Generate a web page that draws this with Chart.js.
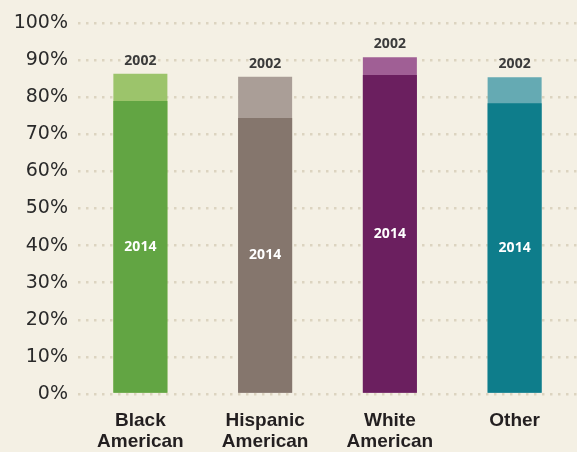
<!DOCTYPE html>
<html lang="en">
<head>
  <meta charset="UTF-8">
  <title>Share by group, 2002 vs 2014</title>
  <style>
    body {
      margin: 0;
      padding: 0;
      background-color: #f4f0e4;
    }
    .wrap {
      width: 577px;
      height: 452px;
    }
  </style>
</head>
<body>
  <div class="wrap">
    <canvas id="chart" width="577" height="452"></canvas>
  </div>

  <script src="https://cdn.jsdelivr.net/npm/chart.js"></script>
  <script>
    // values (percent)
    const categories = [['Black', 'American'], ['Hispanic', 'American'], ['White', 'American'], ['Other']];
    const values2014 = [79.0, 74.4, 86.0, 78.4];
    const values2002 = [86.3, 85.5, 90.8, 85.4];
    const yTicks = [0, 10, 20, 30, 40, 50, 60, 70, 80, 90, 100];

    const colors2014 = ['#62a543', '#85766d', '#6b1f5f', '#0e7d8b'];
    const colors2002 = ['#9cc46b', '#aa9e97', '#a05f95', '#65aab3'];

    // draws the "2002" label over each bar and "2014" inside it
    const yearLabels = {
      id: 'yearLabels',
      afterDatasetsDraw(chart) {
        const ctx = chart.ctx;
        const front = chart.getDatasetMeta(0).data;
        const back = chart.getDatasetMeta(1).data;
        ctx.save();
        ctx.font = '700 14px "Open Sans"';
        ctx.textAlign = 'center';
        ctx.textBaseline = 'middle';
        back.forEach((bar) => {
          ctx.fillStyle = '#3b3b3b';
          ctx.fillText('2002', bar.x, bar.y - 13);
        });
        front.forEach((bar) => {
          ctx.fillStyle = '#ffffff';
          ctx.fillText('2014', bar.x, (bar.y + bar.base) / 2);
        });
        ctx.restore();
      }
    };

    new Chart(document.getElementById('chart'), {
      type: 'bar',
      data: {
        labels: categories,
        datasets: [
          {
            label: '2014',
            data: values2014,
            backgroundColor: colors2014,
            grouped: false,
            categoryPercentage: 1,
            barPercentage: 0.433
          },
          {
            label: '2002',
            data: values2002,
            backgroundColor: colors2002,
            grouped: false,
            categoryPercentage: 1,
            barPercentage: 0.433
          }
        ]
      },
      options: {
        responsive: false,
        animation: false,
        layout: {
          padding: { top: 23, right: 0, bottom: 0, left: 0 }
        },
        plugins: {
          legend: { display: false },
          tooltip: { enabled: false }
        },
        scales: {
          x: {
            grid: { display: false, drawTicks: false },
            border: { display: false },
            ticks: {
              color: '#231f20',
              padding: 16,
              font: { family: '"Liberation Sans"', size: 19, weight: 'bold', lineHeight: 1.13 }
            },
            afterFit(scale) {
              scale.height = 58;
            }
          },
          y: {
            min: 0,
            max: 100,
            afterBuildTicks(scale) {
              scale.ticks = yTicks.map((v) => ({ value: v }));
            },
            grid: {
              color: '#dcd4c0',
              lineWidth: 2.5,
              drawTicks: false
            },
            border: { display: false, dash: [2.5, 5.5] },
            ticks: {
              color: '#2a2a2a',
              padding: 10,
              font: { family: '"DejaVu Sans"', size: 19 },
              callback: (v) => v + '%'
            },
            afterFit(scale) {
              scale.width = 78;
            }
          }
        }
      },
      plugins: [yearLabels]
    });
  </script>
</body>
</html>
